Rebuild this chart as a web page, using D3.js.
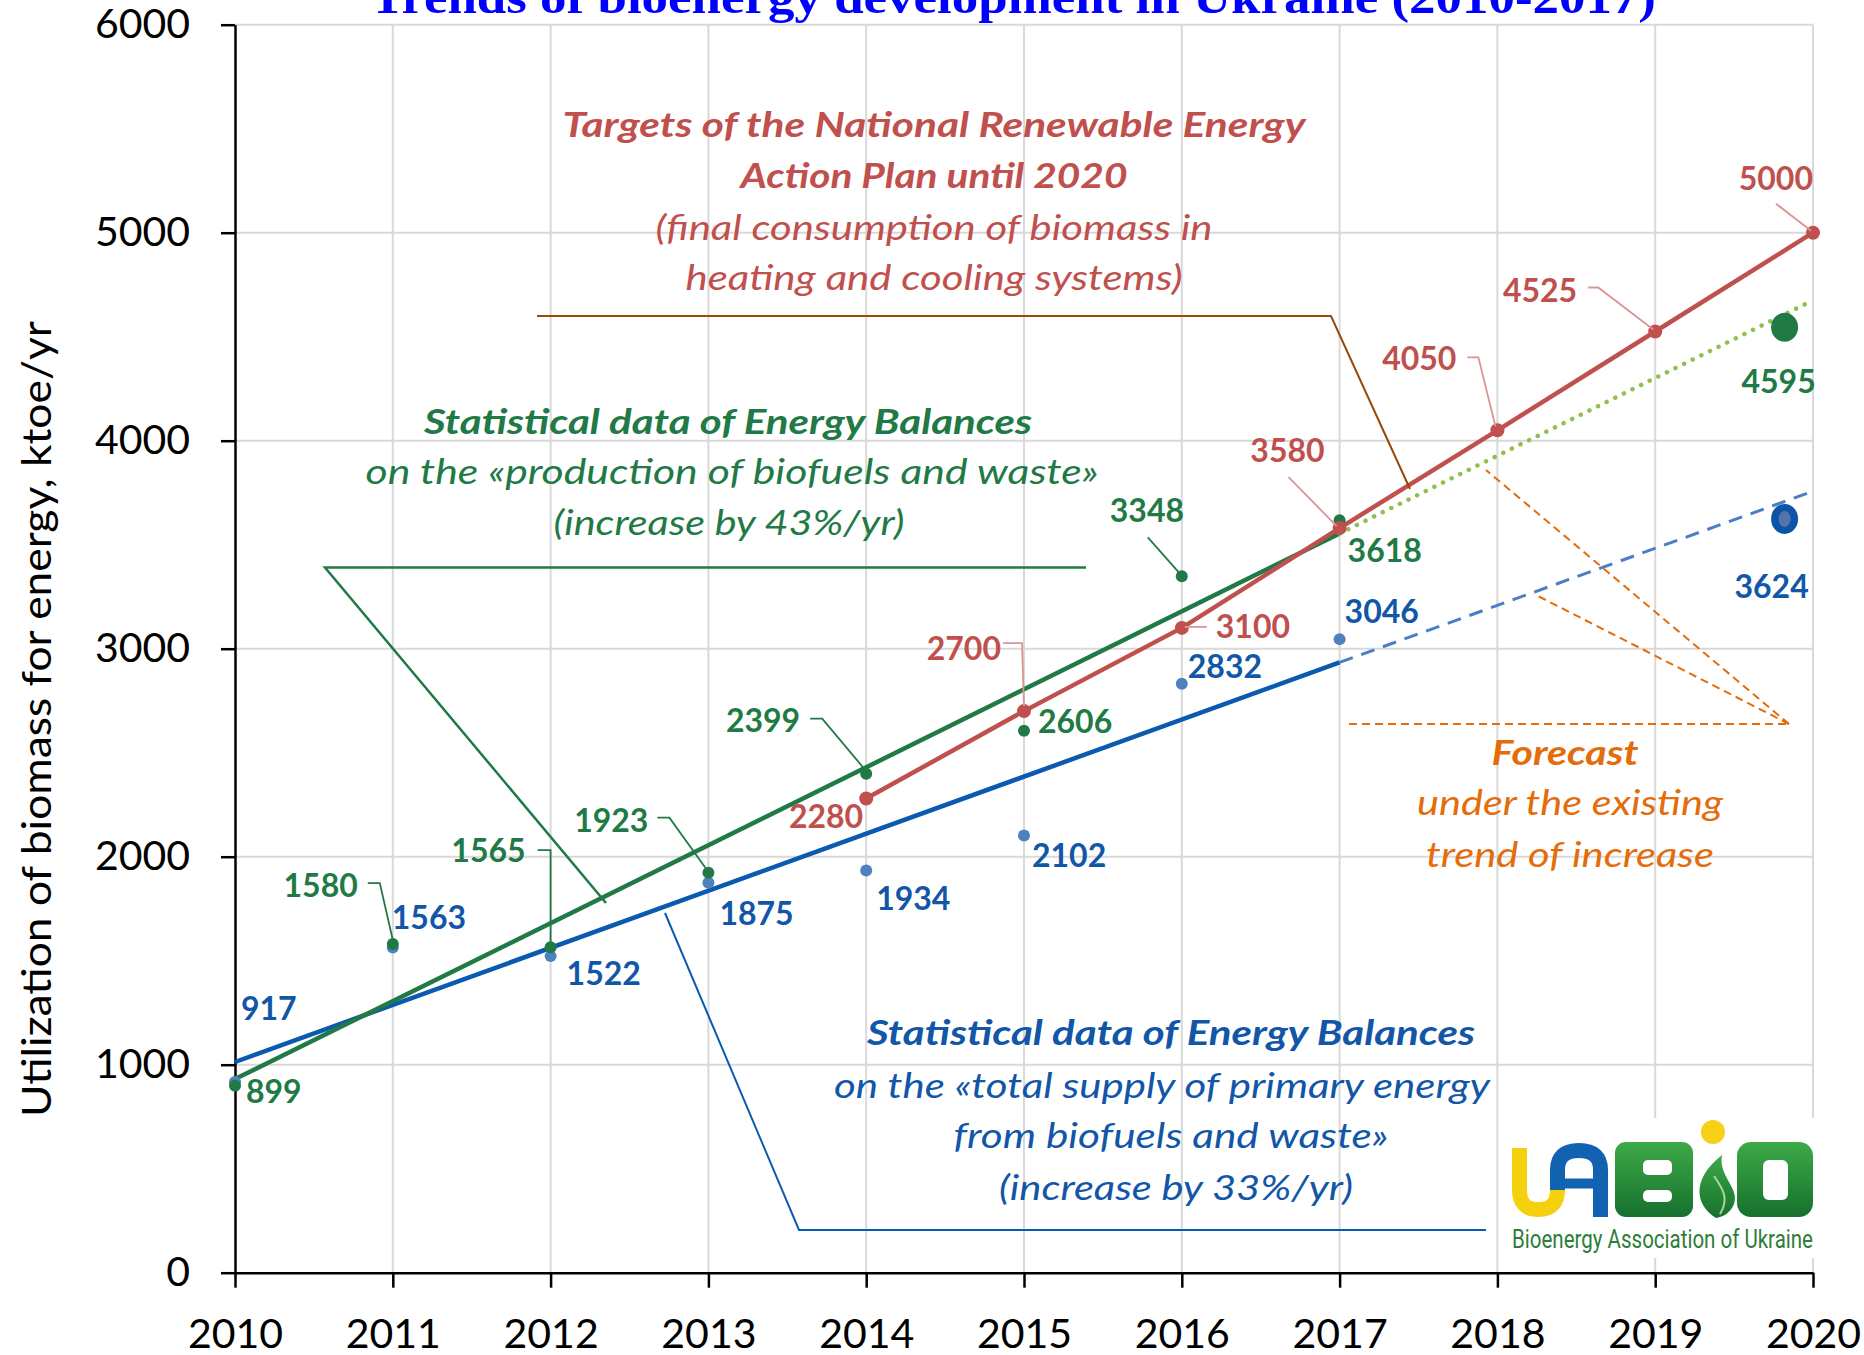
<!DOCTYPE html>
<html lang="en">
<head>
    <meta charset="UTF-8">
    <title>Trends of bioenergy development in Ukraine (2010-2017)</title>
    <script src="https://d3js.org/d3.v7.min.js"></script>
    <style>
        body { margin: 0; background: #fff; }
        svg { display: block; font-family: Lato, "Open Sans", sans-serif; }
    </style>
</head>
<body>
<svg id="chart" width="1864" height="1355"></svg>
<script>
    // ---- data ----
    const years = [2010, 2011, 2012, 2013, 2014, 2015, 2016, 2017, 2018, 2019, 2020];
    const yTicks = [0, 1000, 2000, 3000, 4000, 5000, 6000];

    const statYears = [2010, 2011, 2012, 2013, 2014, 2015, 2016, 2017];
    const productionValues = [899, 1580, 1565, 1923, 2399, 2606, 3348, 3618];   // green
    const supplyValues = [917, 1563, 1522, 1875, 1934, 2102, 2832, 3046];       // blue

    const targetYears = [2014, 2015, 2016, 2017, 2018, 2019, 2020];
    const targetValues = [2280, 2700, 3100, 3580, 4050, 4525, 5000];            // red

    // trend lines (end points)
    const productionTrend = [[2010, 931], [2017, 3554]];
    const productionForecast = [[2017, 3554], [2020, 4675]];
    const supplyTrend = [[2010, 1013], [2017, 2934]];
    const supplyForecast = [[2017, 2934], [2020, 3757]];

    // forecast points plotted near 2020
    const forecastYear = 2019.82;
    const productionForecastValue = 4545, productionForecastLabel = "4595";
    const supplyForecastValue = 3624, supplyForecastLabel = "3624";

    // ---- colours ----
    const RED = "#C0504D", RED_LEAD = "#D99694";
    const GREEN = "#217A45", GREEN_LIGHT = "#92C050";
    const BLUE = "#0A5BB0", BLUE_DOT = "#4F81BD", BLUE_TEXT = "#1256A8", BLUE_DASH = "#4A7EC5";
    const ORANGE = "#E46C0A", BROWN = "#984807";

    const svg = d3.select("#chart");
    const x = d3.scaleLinear().domain([2010, 2020]).range([235, 1813]);
    const y = d3.scaleLinear().domain([0, 6000]).range([1272.7, 24.7]);

    // title (cut off at the top like the original)
    svg.append("text")
        .attr("x", 1013).attr("y", 13)
        .attr("text-anchor", "middle")
        .attr("textLength", 1286).attr("lengthAdjust", "spacingAndGlyphs")
        .style("font-family", "'Liberation Serif', 'Times New Roman', serif")
        .style("font-weight", "bold").style("font-size", "46px")
        .attr("fill", "#0000FF")
        .text("Trends of bioenergy development in Ukraine (2010-2017)");

    // grid
    svg.append("g").selectAll("line").data(yTicks.filter(d => d > 0)).join("line")
        .attr("x1", x(2010)).attr("x2", x(2020))
        .attr("y1", d => y(d)).attr("y2", d => y(d))
        .attr("stroke", "#D9D9D9").attr("stroke-width", 2);
    svg.append("g").selectAll("line").data(years.slice(1)).join("line")
        .attr("x1", d => x(d)).attr("x2", d => x(d))
        .attr("y1", y(6000)).attr("y2", y(0))
        .attr("stroke", "#D9D9D9").attr("stroke-width", 2);

    // axes
    const yAxis = svg.append("g")
        .attr("transform", `translate(${x(2010)},0)`)
        .call(d3.axisLeft(y).tickValues(yTicks).tickSize(14).tickSizeOuter(0).tickPadding(31).tickFormat(d3.format("d")));
    const xAxis = svg.append("g")
        .attr("transform", `translate(0,${y(0)})`)
        .call(d3.axisBottom(x).tickValues(years).tickSize(15).tickSizeOuter(0).tickPadding(31).tickFormat(d3.format("d")));
    [xAxis, yAxis].forEach(a => {
        a.select(".domain").attr("stroke", "#000").attr("stroke-width", 2.5);
        a.selectAll(".tick line").attr("stroke", "#000").attr("stroke-width", 2.5);
        a.selectAll(".tick text").attr("fill", "#000")
            .style("font-family", "Lato, sans-serif").style("font-size", "41px");
    });

    // y axis title
    svg.append("text")
        .attr("transform", "translate(51,719) rotate(-90)")
        .attr("text-anchor", "middle")
        .attr("textLength", 796).attr("lengthAdjust", "spacingAndGlyphs")
        .style("font-size", "41px").attr("fill", "#000")
        .text("Utilization of biomass for energy, ktoe/yr");

    const line = d3.line().x(d => x(d[0])).y(d => y(d[1]));

    // trend lines and forecast extensions
    svg.append("path").attr("d", line(supplyTrend))
        .attr("fill", "none").attr("stroke", BLUE).attr("stroke-width", 4.5);
    svg.append("path").attr("d", line(productionTrend))
        .attr("fill", "none").attr("stroke", GREEN).attr("stroke-width", 4.5);
    svg.append("path").attr("d", line(supplyForecast))
        .attr("fill", "none").attr("stroke", BLUE_DASH).attr("stroke-width", 3)
        .attr("stroke-dasharray", "14 9");
    svg.append("path").attr("d", line(productionForecast))
        .attr("fill", "none").attr("stroke", GREEN_LIGHT).attr("stroke-width", 4.5)
        .attr("stroke-linecap", "round").attr("stroke-dasharray", "0.1 9.5");

    // targets line
    const targets = targetYears.map((yr, i) => [yr, targetValues[i]]);
    svg.append("path").attr("d", line(targets))
        .attr("fill", "none").attr("stroke", RED).attr("stroke-width", 4.5);

    // annotation leader lines
    const leader = (pts, color, w, dash) => svg.append("path")
        .attr("d", d3.line()(pts)).attr("fill", "none")
        .attr("stroke", color).attr("stroke-width", w)
        .attr("stroke-dasharray", dash || null);
    leader([[537, 316], [1331, 316], [1410, 489]], BROWN, 2);
    leader([[1086, 567.5], [325, 567.5], [606, 903]], GREEN, 2.5);
    leader([[1486, 1230], [799, 1230], [665, 913]], BLUE, 2);
    leader([[1349, 724], [1789, 724]], ORANGE, 2, "8 5");
    leader([[1789, 724], [1486, 470]], ORANGE, 2, "8 5");
    leader([[1789, 724], [1534, 594]], ORANGE, 2, "8 5");

    // series points
    const supply = statYears.map((yr, i) => [yr, supplyValues[i]]);
    const production = statYears.map((yr, i) => [yr, productionValues[i]]);

    svg.append("g").selectAll("circle").data(supply).join("circle")
        .attr("cx", d => x(d[0])).attr("cy", d => y(d[1])).attr("r", 6)
        .attr("fill", BLUE_DOT);
    svg.append("g").selectAll("circle").data(production).join("circle")
        .attr("cx", d => x(d[0])).attr("cy", d => y(d[1])).attr("r", 6)
        .attr("fill", GREEN);
    svg.append("g").selectAll("circle").data(targets).join("circle")
        .attr("cx", d => x(d[0])).attr("cy", d => y(d[1])).attr("r", 7)
        .attr("fill", RED);

    // forecast markers
    svg.append("ellipse")
        .attr("cx", x(forecastYear)).attr("cy", y(productionForecastValue))
        .attr("rx", 13.5).attr("ry", 14.5).attr("fill", GREEN);
    svg.append("ellipse")
        .attr("cx", x(forecastYear)).attr("cy", y(supplyForecastValue))
        .attr("rx", 13.5).attr("ry", 15).attr("fill", "#0A55A8");
    svg.append("ellipse")
        .attr("cx", x(forecastYear)).attr("cy", y(supplyForecastValue))
        .attr("rx", 6).attr("ry", 8).attr("fill", "#5573A6");

    // data labels: offsets from each point [dx, dy, anchor, leader pts]
    const productionLabelPos = [
        [11, 17, "start"],
        [-35, -47, "end", [[-25, -61], [-13, -61], [0, -4]]],
        [-25, -85, "end", [[-13, -97], [0, -97], [0, -5]]],
        [-60, -41, "end", [[-51, -55], [-39, -55], [-3, -5]]],
        [-66, -42, "end", [[-56, -55], [-44, -55], [-2, -5]]],
        [14, 2, "start"],
        [-72, -54, "start", [[-34, -39], [-3, -4]]],
        [8, 42, "start"]
    ];
    const supplyLabelPos = [
        [6, -62, "start"], [-1, -19, "start"], [16, 29, "start"], [11, 42, "start"],
        [10, 40, "start"], [8, 32, "start"], [6, -6, "start"], [5, -16, "start"]
    ];
    const targetLabelPos = [
        [-3, 30, "end"],
        [-23, -51, "end", [[-21, -68], [-2, -68], [0, -5]]],
        [34, 10, "start", [[25, -1], [3, -1]]],
        [-15, -66, "end", [[-51, -51], [-3, -2]]],
        [-41, -60, "end", [[-30, -73], [-19, -73], [-2, -4]]],
        [-78, -30, "end", [[-67, -44], [-57, -44], [-2, -2]]],
        [0, -43, "end", [[-37, -29], [-2, -2]]]
    ];

    function drawLabels(points, pos, color, leadColor) {
        points.forEach((p, i) => {
            const px = x(p[0]), py = y(p[1]);
            const [dx, dy, anchor, lead] = pos[i];
            if (lead) {
                svg.append("path")
                    .attr("d", d3.line()(lead.map(o => [px + o[0], py + o[1]])))
                    .attr("fill", "none").attr("stroke", leadColor).attr("stroke-width", 1.8);
            }
            svg.append("text")
                .attr("x", px + dx).attr("y", py + dy)
                .attr("text-anchor", anchor)
                .style("font-weight", "bold").style("font-size", "32px")
                .attr("fill", color)
                .text(p[1]);
        });
    }
    drawLabels(supply, supplyLabelPos, BLUE_TEXT, BLUE_DOT);
    drawLabels(production, productionLabelPos, GREEN, GREEN);
    drawLabels(targets, targetLabelPos, RED, RED_LEAD);

    svg.append("text")
        .attr("x", x(forecastYear) - 6).attr("y", y(productionForecastValue) + 66)
        .attr("text-anchor", "middle").style("font-weight", "bold").style("font-size", "32px")
        .attr("fill", GREEN).text(productionForecastLabel);
    svg.append("text")
        .attr("x", x(forecastYear) - 13).attr("y", y(supplyForecastValue) + 79)
        .attr("text-anchor", "middle").style("font-weight", "bold").style("font-size", "32px")
        .attr("fill", BLUE_TEXT).text(supplyForecastLabel);

    // text annotations: [text, centre x, baseline y, width, bold]
    const notes = [
        { color: RED, lines: [
            ["Targets of the National Renewable Energy", 934, 137, 743, true],
            ["Action Plan until 2020", 934, 188, 387, true],
            ["(final consumption of biomass in", 934, 240, 557, false],
            ["heating and cooling systems)", 934, 290, 497, false]
        ]},
        { color: GREEN, lines: [
            ["Statistical data of Energy Balances", 728, 434, 608, true],
            ["on the «production of biofuels and waste»", 732, 484, 733, false],
            ["(increase by 43%/yr)", 729, 535, 351, false]
        ]},
        { color: BLUE_TEXT, lines: [
            ["Statistical data of Energy Balances", 1171, 1045, 608, true],
            ["on the «total supply of primary energy", 1162, 1098, 656, false],
            ["from biofuels and waste»", 1171, 1148, 435, false],
            ["(increase by 33%/yr)", 1176, 1200, 354, false]
        ]},
        { color: ORANGE, lines: [
            ["Forecast", 1565, 765, 147, true],
            ["under the existing", 1570, 815, 306, false],
            ["trend of increase", 1570, 867, 288, false]
        ]}
    ];
    notes.forEach(n => n.lines.forEach(l => {
        svg.append("text")
            .attr("x", l[1]).attr("y", l[2])
            .attr("text-anchor", "middle")
            .attr("textLength", l[3]).attr("lengthAdjust", "spacingAndGlyphs")
            .style("font-style", "italic")
            .style("font-weight", l[4] ? "bold" : "normal")
            .style("font-size", "35px")
            .attr("fill", n.color)
            .text(l[0]);
    }));

    // UABIO logo
    const logo = svg.append("g").attr("transform", "translate(1508,1118)");
    const defs = svg.append("defs");
    const grad = defs.append("linearGradient").attr("id", "bioGreen")
        .attr("x1", 0).attr("y1", 0).attr("x2", 0).attr("y2", 1);
    grad.append("stop").attr("offset", "0%").attr("stop-color", "#3DAA47");
    grad.append("stop").attr("offset", "100%").attr("stop-color", "#16702E");

    logo.append("rect").attr("x", 0).attr("y", 0).attr("width", 312).attr("height", 140).attr("fill", "#fff");
    logo.append("circle").attr("cx", 205).attr("cy", 14).attr("r", 12).attr("fill", "#F7D117");
    logo.append("path")
        .attr("d", "M11.5 30 V72 Q11.5 91.5 30.5 91.5 Q49.5 91.5 49.5 72 V66")
        .attr("fill", "none").attr("stroke", "#F5D10D").attr("stroke-width", 15);
    logo.append("path")
        .attr("d", "M49.5 72 V52 Q49.5 32.5 71 32.5 Q92.5 32.5 92.5 52 V99")
        .attr("fill", "none").attr("stroke", "#1262B2").attr("stroke-width", 15);
    logo.append("path").attr("d", "M49.5 65.5 H92.5")
        .attr("stroke", "#1262B2").attr("stroke-width", 10);
    logo.append("rect").attr("x", 107).attr("y", 24).attr("width", 78).attr("height", 75)
        .attr("rx", 11).attr("fill", "url(#bioGreen)");
    logo.append("rect").attr("x", 135).attr("y", 42).attr("width", 29).attr("height", 15)
        .attr("rx", 5).attr("fill", "#fff");
    logo.append("rect").attr("x", 135).attr("y", 72).attr("width", 29).attr("height", 12)
        .attr("rx", 5).attr("fill", "#fff");
    logo.append("path")
        .attr("d", "M208 100 C188 88 182 62 214 37 C210 58 232 70 226 86 C222 96 214 99 208 100 Z")
        .attr("fill", "url(#bioGreen)");
    logo.append("path")
        .attr("d", "M206 58 C214 70 222 80 212 96")
        .attr("fill", "none").attr("stroke", "#A8D89A").attr("stroke-width", 2);
    logo.append("rect").attr("x", 229).attr("y", 24).attr("width", 76).attr("height", 75)
        .attr("rx", 14).attr("fill", "url(#bioGreen)");
    logo.append("rect").attr("x", 255).attr("y", 42).attr("width", 25).attr("height", 40)
        .attr("rx", 6).attr("fill", "#fff");
    logo.append("text")
        .attr("x", 4).attr("y", 130)
        .attr("textLength", 301).attr("lengthAdjust", "spacingAndGlyphs")
        .style("font-family", "'Liberation Sans Narrow', 'Roboto', sans-serif")
        .style("font-size", "26px").attr("fill", "#2E7D3A")
        .text("Bioenergy Association of Ukraine");
</script>
</body>
</html>
